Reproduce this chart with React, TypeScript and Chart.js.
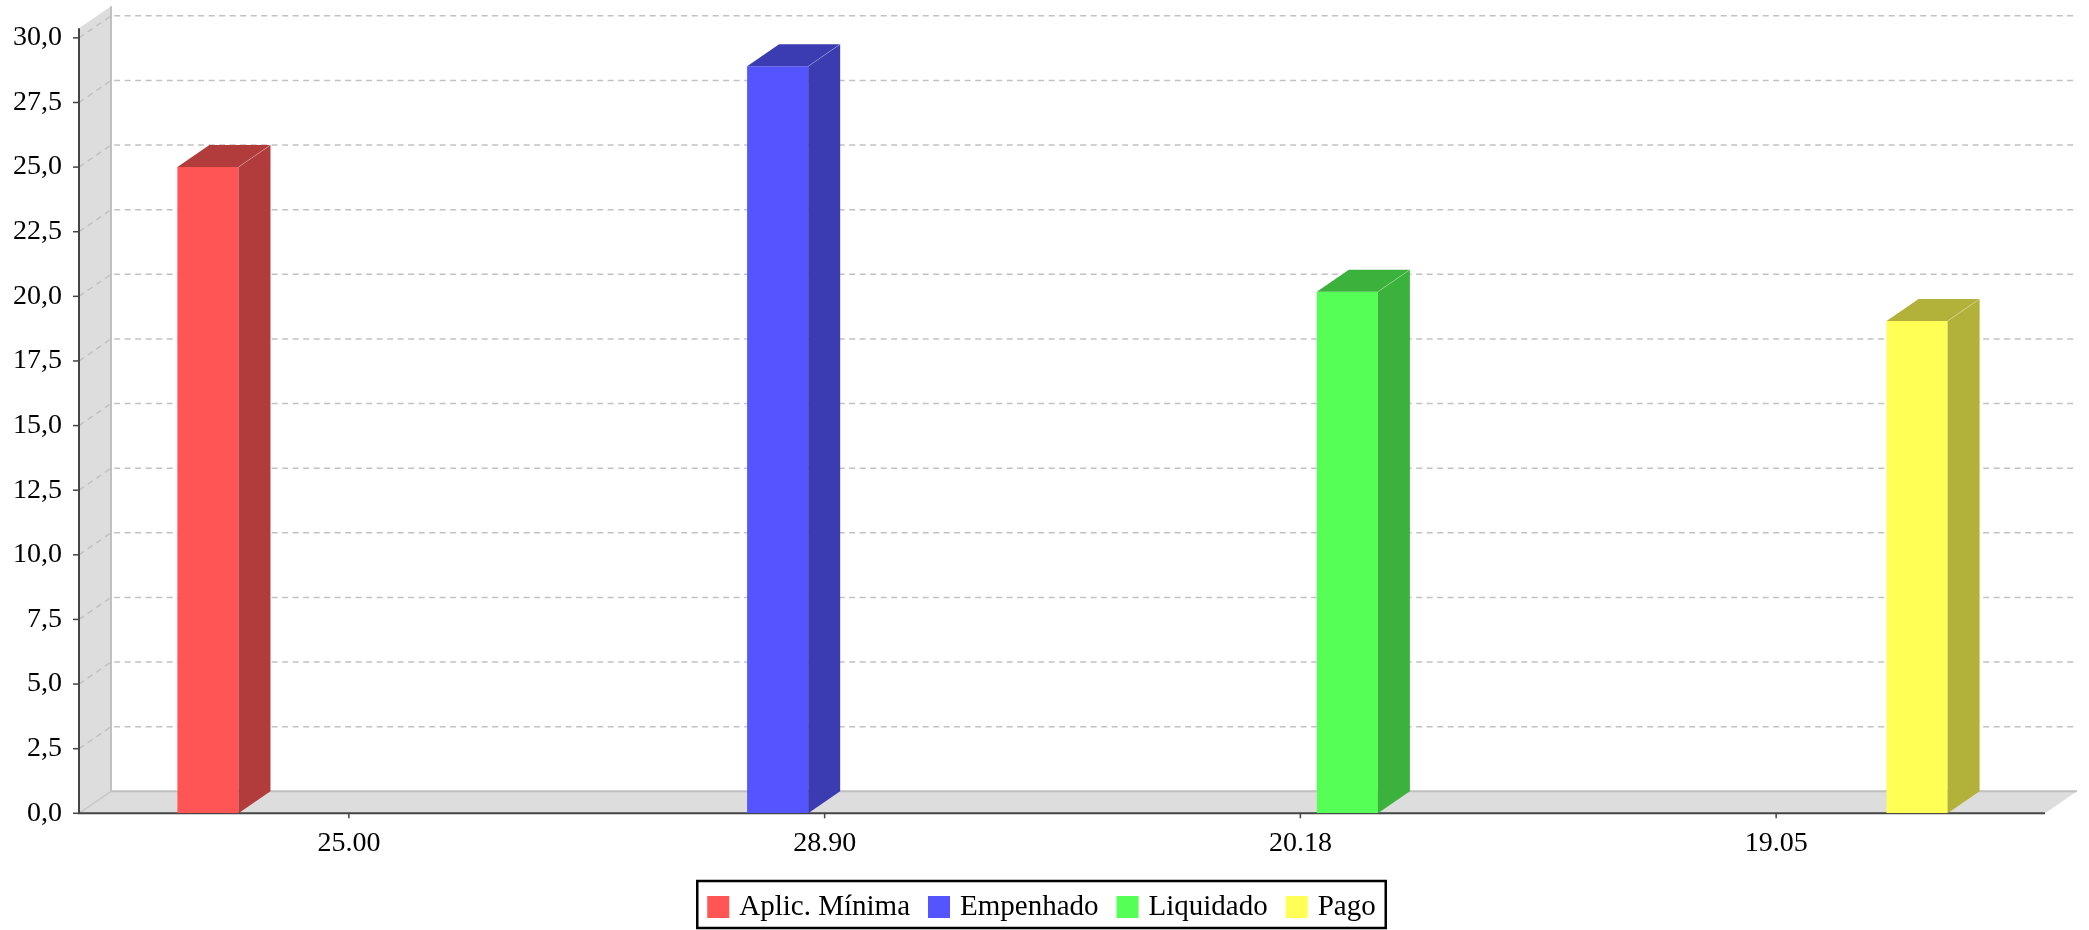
import React, { useEffect, useRef } from 'react';
import { Chart, registerables } from 'chart.js';

Chart.register(...registerables);

const categories = ['25.00', '28.90', '20.18', '19.05'];
const seriesLabels = ['Aplic. Mínima', 'Empenhado', 'Liquidado', 'Pago'];
const aplicMinima = [25.0, null, null, null];
const empenhado = [null, 28.9, null, null];
const liquidado = [null, null, 20.18, null];
const pago = [null, null, null, 19.05];
const frontColors = ['#ff5555', '#5555ff', '#55ff55', '#ffff55'];
const sideColors = ['#b23b3b', '#3b3bb2', '#3bb23b', '#b2b23b'];
const yMin = 0;
const yMax = 30.37;
const yStep = 2.5;

const DX = 32;
const DY = 22;
const FONT = '"Liberation Serif", "Times New Roman", serif';
const TARGET_TOP = 28.3;
const TARGET_BOTTOM = 813.3;

const threeD = {
  id: 'threeD',
  beforeDatasetsDraw(chart: any) {
    const { ctx, chartArea: ca, scales } = chart;
    const y = scales.y;
    const x = scales.x;
    const fl = ca.left - DX;
    const fr = ca.right + DX - 1;
    const br = fr + DX;
    const bottom = y.getPixelForValue(0);
    const top = y.getPixelForValue(yMax);
    ctx.save();
    ctx.fillStyle = '#dddddd';
    ctx.beginPath();
    ctx.moveTo(fl, bottom);
    ctx.lineTo(fl, top);
    ctx.lineTo(fl + DX, top - DY);
    ctx.lineTo(fl + DX, bottom - DY);
    ctx.closePath();
    ctx.fill();
    ctx.beginPath();
    ctx.moveTo(fl, bottom);
    ctx.lineTo(fl + DX, bottom - DY);
    ctx.lineTo(br, bottom - DY);
    ctx.lineTo(fr, bottom);
    ctx.closePath();
    ctx.fill();
    ctx.strokeStyle = '#c0c0c0';
    ctx.lineWidth = 2;
    ctx.beginPath();
    ctx.moveTo(fl + DX, top - DY);
    ctx.lineTo(fl + DX, bottom - DY);
    ctx.lineTo(br, bottom - DY);
    ctx.stroke();
    ctx.lineWidth = 1.5;
    ctx.strokeStyle = '#c8c8c8';
    ctx.beginPath();
    ctx.moveTo(fl, bottom);
    ctx.lineTo(fl + DX, bottom - DY);
    ctx.stroke();
    ctx.setLineDash([6, 4.5]);
    ctx.strokeStyle = '#c2c2c2';
    ctx.lineWidth = 1.5;
    y.ticks.forEach((t: any) => {
      if (t.value <= 0) return;
      const py = y.getPixelForValue(t.value);
      ctx.beginPath();
      ctx.moveTo(fl, py);
      ctx.lineTo(fl + DX, py - DY);
      ctx.lineTo(br, py - DY);
      ctx.stroke();
    });
    ctx.setLineDash([]);
    ctx.strokeStyle = '#444444';
    ctx.lineWidth = 2;
    ctx.beginPath();
    ctx.moveTo(fl, top);
    ctx.lineTo(fl, bottom);
    ctx.lineTo(fr, bottom);
    ctx.stroke();
    ctx.lineWidth = 1.5;
    y.ticks.forEach((t: any) => {
      const py = y.getPixelForValue(t.value);
      ctx.beginPath();
      ctx.moveTo(fl - 6, py);
      ctx.lineTo(fl, py);
      ctx.stroke();
    });
    x.ticks.forEach((_t: any, i: number) => {
      const px = x.getPixelForValue(i);
      ctx.beginPath();
      ctx.moveTo(px, bottom);
      ctx.lineTo(px, bottom + 5);
      ctx.stroke();
    });
    ctx.restore();
  },
  afterDatasetsDraw(chart: any) {
    const { ctx } = chart;
    ctx.save();
    chart.data.datasets.forEach((ds: any, di: number) => {
      const meta = chart.getDatasetMeta(di);
      meta.data.forEach((bar: any, i: number) => {
        if (ds.data[i] === null || ds.data[i] === undefined) return;
        const w = bar.width;
        const x1 = bar.x - w / 2;
        const x2 = bar.x + w / 2;
        const top = bar.y;
        const base = bar.base;
        ctx.fillStyle = sideColors[di];
        ctx.beginPath();
        ctx.moveTo(x2, top);
        ctx.lineTo(x2 + DX, top - DY);
        ctx.lineTo(x2 + DX, base - DY);
        ctx.lineTo(x2, base);
        ctx.closePath();
        ctx.fill();
        ctx.beginPath();
        ctx.moveTo(x1, top);
        ctx.lineTo(x1 + DX, top - DY);
        ctx.lineTo(x2 + DX, top - DY);
        ctx.lineTo(x2, top);
        ctx.closePath();
        ctx.fill();
        ctx.strokeStyle = 'rgba(255,255,255,0.25)';
        ctx.lineWidth = 1;
        ctx.beginPath();
        ctx.moveTo(x2, top);
        ctx.lineTo(x2 + DX, top - DY);
        ctx.stroke();
      });
    });
    ctx.restore();
  },
  afterDraw(chart: any) {
    const { ctx } = chart;
    ctx.save();
    ctx.font = `29px ${FONT}`;
    const labels = chart.data.datasets.map((d: any) => d.label as string);
    const widths = labels.map((l: string) => ctx.measureText(l).width);
    const pad = 10, box = 22, gapBT = 10, gapItem = 18;
    const total = pad * 2 + widths.reduce((s: number, w: number) => s + box + gapBT + w, 0) + gapItem * (labels.length - 1);
    const left = chart.width / 2 - 3 - total / 2;
    const top = chart.height - 49;
    const h = 47;
    ctx.strokeStyle = '#000';
    ctx.lineWidth = 2.5;
    ctx.strokeRect(left, top, total, h);
    let cx = left + pad;
    ctx.textBaseline = 'alphabetic';
    ctx.textAlign = 'left';
    labels.forEach((l: string, i: number) => {
      ctx.fillStyle = frontColors[i];
      ctx.fillRect(cx, top + 15, box, box);
      cx += box + gapBT;
      ctx.fillStyle = '#000';
      ctx.fillText(l, cx, top + 33.5);
      cx += widths[i] + gapItem;
    });
    ctx.restore();
  },
};

export default function App() {
  const ref = useRef<HTMLCanvasElement | null>(null);
  useEffect(() => {
    document.body.style.margin = '0';
    const canvas = ref.current!;
    const seriesData = [aplicMinima, empenhado, liquidado, pago];
    const options: any = {
      responsive: false,
      animation: false,
      layout: { padding: { top: 28.3, right: 75, left: 0, bottom: 0 } },
      plugins: { legend: { display: false }, tooltip: { enabled: false } },
      scales: {
        x: {
          grid: { display: false, drawTicks: false },
          border: { display: false },
          ticks: { color: '#000', font: { family: FONT, size: 28 }, padding: 14 },
          afterFit: (s: any) => { s.height = 116.7; },
        },
        y: {
          min: yMin,
          max: yMax,
          grid: { display: false, drawTicks: false },
          border: { display: false },
          ticks: {
            stepSize: yStep,
            includeBounds: false,
            color: '#000',
            font: { family: FONT, size: 28 },
            padding: 49,
            callback: (v: any) => Number(v).toFixed(1).replace('.', ','),
          },
          afterFit: (s: any) => {
            s.width = 111;
            s.paddingTop = 0;
            s.paddingBottom = 0;
          },
        },
      },
    };
    const chart = new Chart(canvas, {
      type: 'bar',
      data: {
        labels: categories,
        datasets: seriesData.map((d, i) => ({
          label: seriesLabels[i],
          data: d as any,
          backgroundColor: frontColors[i],
          borderWidth: 0,
          categoryPercentage: 0.79,
          barPercentage: 0.65,
        })),
      },
      options,
      plugins: [threeD],
    });
    for (let k = 0; k < 6; k++) {
      const y: any = chart.scales.y;
      const topPx = y.getPixelForValue(yMax);
      const botPx = y.getPixelForValue(0);
      const dTop = topPx - TARGET_TOP;
      const dBot = TARGET_BOTTOM - botPx;
      if (Math.abs(dTop) < 0.2 && Math.abs(dBot) < 0.2) break;
      options.layout.padding.top -= dTop;
      options.layout.padding.bottom -= dBot;
      chart.update();
    }
    return () => chart.destroy();
  }, []);
  return (
    <div style={{ width: 2089, height: 930 }}>
      <canvas ref={ref} width={2089} height={930} style={{ display: 'block' }} />
    </div>
  );
}
